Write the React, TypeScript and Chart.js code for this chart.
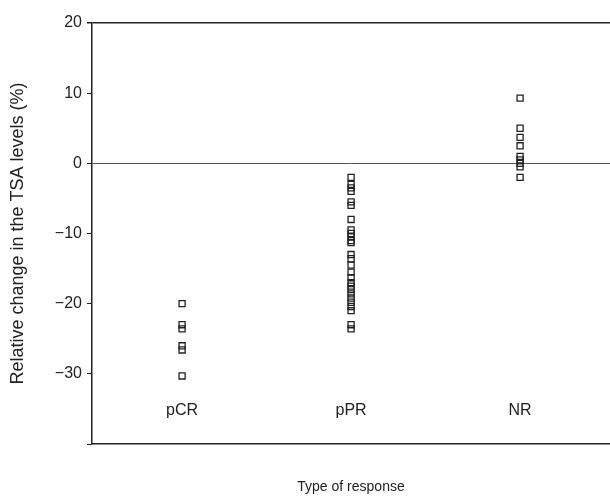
import React, { useEffect, useRef } from "react";
import { Chart, registerables } from "chart.js";

Chart.register(...registerables);

const categories = ["pCR", "pPR", "NR"];
const pCRValues = [-20, -23, -23.6, -26, -26.6, -30.3];
const pPRValues = [
  -2, -3, -3.5, -4, -5.5, -6, -8, -9.5, -10, -10.5, -11, -11.3, -13, -13.6,
  -14.5, -15.5, -16.3, -17, -17.5, -18, -18.6, -19.2, -19.8, -20.4, -21, -23, -23.6,
];
const nrValues = [9.3, 5, 3.7, 2.5, 1, 0.5, 0, -0.5, -2];
const yTicks = [20, 10, 0, -10, -20, -30, -40];
const categoryLabelY = -35.2;

const FONT = "'Liberation Sans', Arial, sans-serif";

export default function App() {
  const ref = useRef<HTMLCanvasElement | null>(null);

  useEffect(() => {
    document.body.style.margin = "0";
    document.body.style.overflow = "hidden";
    const canvas = ref.current!;
    const seriesValues = [pCRValues, pPRValues, nrValues];
    const points = seriesValues.flatMap((vals, i) => vals.map((v) => ({ x: i, y: v })));

    const catLabels = {
      id: "catLabels",
      afterDatasetsDraw(chart: any) {
        const { ctx, scales } = chart;
        ctx.save();
        ctx.font = `16px ${FONT}`;
        ctx.fillStyle = "#222";
        ctx.textAlign = "center";
        ctx.textBaseline = "middle";
        categories.forEach((c, i) => {
          ctx.fillText(c, scales.x.getPixelForValue(i), scales.y.getPixelForValue(categoryLabelY));
        });
        ctx.restore();
      },
    };

    const chart = new Chart(canvas, {
      type: "scatter",
      data: {
        datasets: [
          {
            data: points,
            pointStyle: "rect",
            pointRadius: 4.3,
            pointHoverRadius: 4.3,
            borderColor: "#222",
            borderWidth: 1.3,
            backgroundColor: "rgba(255,255,255,0)",
          },
        ],
      },
      options: {
        animation: false,
        responsive: false,
        maintainAspectRatio: false,
        layout: { autoPadding: false, padding: { left: 0, top: 23, right: 0, bottom: 0 } },
        plugins: { legend: { display: false }, tooltip: { enabled: false } },
        scales: {
          x: {
            type: "linear",
            min: -0.533,
            max: 2.532,
            border: { display: true, color: "#222", width: 1.5 },
            grid: { display: false },
            ticks: { display: false },
            title: {
              display: true,
              text: "Type of response",
              color: "#222",
              font: { family: FONT, size: 14 },
              padding: { top: 0, bottom: 0 },
            },
            afterFit(scale: any) {
              scale.height = 52;
            },
          },
          y: {
            min: -40,
            max: 20,
            afterBuildTicks(scale: any) {
              scale.ticks = yTicks.map((v) => ({ value: v }));
            },
            border: { display: true, color: "#222", width: 1.5 },
            grid: {
              drawOnChartArea: true,
              tickLength: 5,
              tickColor: "#222",
              color: (ctx: any) =>
                ctx.tick && ctx.tick.value === 0 ? "#555" : ctx.tick && ctx.tick.value === 20 ? "#222" : "rgba(0,0,0,0)",
              lineWidth: (ctx: any) => (ctx.tick && ctx.tick.value === 20 ? 1.5 : 1),
            },
            ticks: {
              color: "#222",
              font: { family: FONT, size: 16 },
              padding: 5,
              callback: (v: any) => (v === -40 ? "" : v < 0 ? "\u2212" + Math.abs(v) : String(v)),
            },
            title: {
              display: true,
              text: "Relative change in the TSA levels (%)",
              color: "#222",
              font: { family: FONT, size: 18 },
              padding: { top: 7, bottom: 0 },
            },
            afterFit(scale: any) {
              scale.width = 92;
            },
          },
        },
      },
      plugins: [catLabels],
    });
    return () => chart.destroy();
  }, []);

  return (
    <div style={{ width: 610, height: 496, overflow: "hidden" }}>
      <canvas
        ref={ref}
        width={610}
        height={496}
        style={{ display: "block", width: 610, height: 496 }}
      />
    </div>
  );
}
